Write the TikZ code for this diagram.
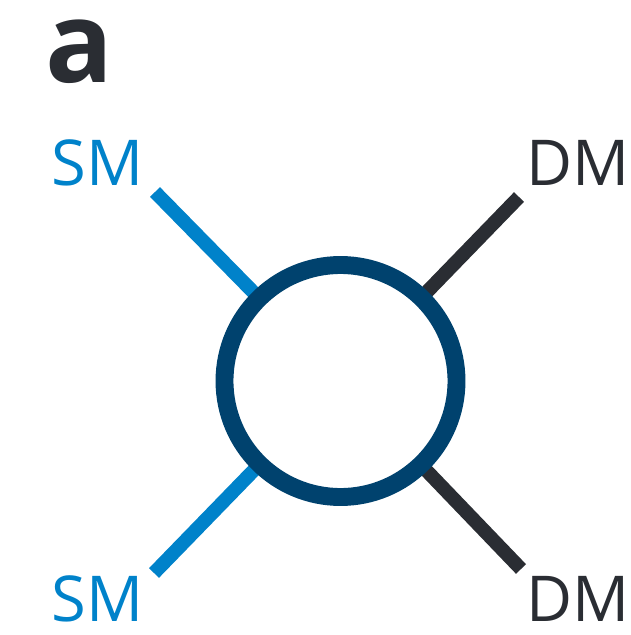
\documentclass[tikz,border=0pt]{standalone}
\usepackage{fontspec}
\setmainfont{Open Sans}
\definecolor{smblue}{RGB}{0,130,202}
\definecolor{loopblue}{RGB}{0,66,110}
\definecolor{dmgray}{RGB}{42,45,51}
\tikzset{
  leg/.style={line width=7.9pt},
  lbl/.style={inner sep=0pt, font=\fontsize{36}{40}\selectfont}
}
\begin{document}
\begin{tikzpicture}[x=0.02cm, y=-0.02cm]
\useasboundingbox (0,0) rectangle (631,635);
\node (tag) at (45,83)[anchor=base west, inner sep=0pt, text=dmgray]{\fontsize{64}{68}\selectfont\bfseries a};

% external legs
\coordinate (tl) at (155,192);
\coordinate (tr) at (519,197);
\coordinate (bl) at (154,573);
\coordinate (br) at (521,569);
\node (loop) at (340.5,381)[circle, minimum size=4.64cm, inner sep=0pt, outer sep=0pt]{};

\draw[leg, smblue] (loop) -- (tl);
\draw[leg, smblue] (loop) -- (bl);
\draw[leg, dmgray] (loop) -- (tr);
\draw[leg, dmgray] (loop) -- (br);

\draw[line width=10.2pt, loopblue, fill=white] (loop.center) circle (116);

\node (sm1) at (51,185)[anchor=base west, lbl, text=smblue]{SM};
\node (sm2) at (51,621)[anchor=base west, lbl, text=smblue]{SM};
\node (dm1) at (630,185)[anchor=base east, lbl, text=dmgray]{DM};
\node (dm2) at (630,621)[anchor=base east, lbl, text=dmgray]{DM};
\end{tikzpicture}
\end{document}
